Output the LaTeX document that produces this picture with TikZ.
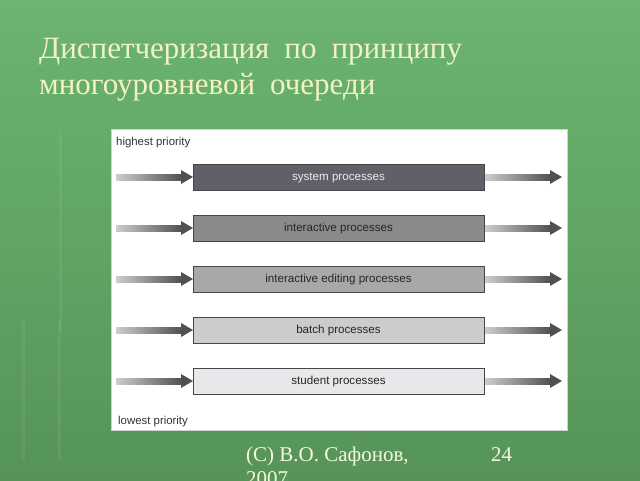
\documentclass[tikz,border=0pt]{standalone}
\usepackage{fontspec}
\setmainfont{Liberation Serif}
\newfontfamily\diagsans{Liberation Sans}
\usetikzlibrary{shadings}
\definecolor{bgtop}{RGB}{108,180,111}
\definecolor{bgbot}{RGB}{86,148,89}
\definecolor{titlecol}{RGB}{242,242,196}
\definecolor{panelborder}{RGB}{200,215,200}
\definecolor{qone}{RGB}{96,96,104}
\definecolor{qtwo}{RGB}{138,138,140}
\definecolor{qthree}{RGB}{168,168,170}
\definecolor{qfour}{RGB}{204,204,206}
\definecolor{qfive}{RGB}{232,232,234}
\definecolor{qedge}{RGB}{70,70,74}
\definecolor{arrdark}{RGB}{80,80,84}
\definecolor{arrlight}{RGB}{205,205,208}
\newcommand{\wsp}{\hspace{15pt}}
\tikzset{
  qbox/.style={draw=qedge, line width=0.9pt, minimum width=291pt, minimum height=26pt,
    inner sep=0pt, text height=6pt, text depth=0pt, font=\diagsans\fontsize{11.6}{13}\selectfont},
  plabel/.style={anchor=base west, inner sep=0pt, font=\diagsans\fontsize{11.4}{13}\selectfont, text=black!80},
  titletext/.style={anchor=base west, inner sep=0pt, text=titlecol, font=\fontsize{31}{36}\selectfont},
  foottext/.style={anchor=base west, inner sep=0pt, text=titlecol!60!white, font=\fontsize{21}{24}\selectfont}
}
\newcommand{\gradarrow}[2]{%
  \shade[left color=arrlight, right color=arrdark] (#1,#2-3) rectangle (#1+66,#2+3);
  \fill[arrdark] (#1+65,#2-7) -- (#1+77,#2) -- (#1+65,#2+7) -- cycle;
}
\begin{document}
\begin{tikzpicture}[x=1pt,y=-1pt]
\useasboundingbox (0,0) rectangle (640,480);
\shade[top color=bgtop, bottom color=bgbot] (0,0) rectangle (640,480);
% faint vertical streaks in background
\fill[white, opacity=0.06] (59,130) rectangle (62,330);
\fill[white, opacity=0.06] (22,320) rectangle (25,460);
\fill[white, opacity=0.06] (58,320) rectangle (61,460);
% title
\node[titletext] (t1) at (39,58) {Диспетчеризация\wsp по\wsp принципу};
\node[titletext] (t2) at (39,94) {многоуровневой\wsp очереди};
% panel
\node[draw=panelborder, line width=1.2pt, fill=white, minimum width=456pt, minimum height=301pt,
  inner sep=0pt, anchor=north west] (panel) at (111,129) {};
\node[plabel] (hp) at (116,145) {highest priority};
\node[plabel] (lp) at (118,424) {lowest priority};
% queues
\node[qbox, fill=qone, text=white!85!gray] (q1) at (338.5,177) {system processes};
\node[qbox, fill=qtwo, text=black!85] (q2) at (338.5,228) {interactive processes};
\node[qbox, fill=qthree, text=black!85] (q3) at (338.5,279) {interactive editing processes};
\node[qbox, fill=qfour, text=black!85] (q4) at (338.5,330) {batch processes};
\node[qbox, fill=qfive, text=black!85] (q5) at (338.5,381) {student processes};
\foreach \yy in {177,228,279,330,381}{
  \gradarrow{116}{\yy}
  \gradarrow{485}{\yy}
}
% footer
\node[foottext] (f1) at (246,461) {(C) В.О. Сафонов,};
\node[foottext] (f2) at (246,485) {2007};
\node[foottext] (f3) at (491,461) {24};
\end{tikzpicture}
\end{document}
